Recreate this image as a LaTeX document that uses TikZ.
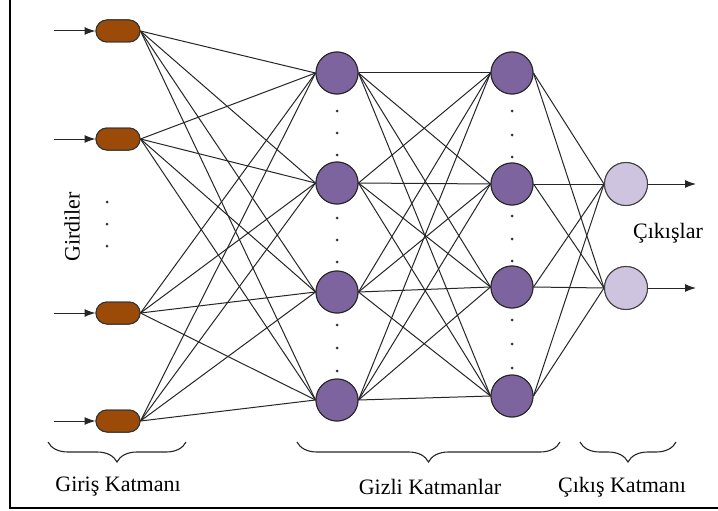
\documentclass[tikz,border=0pt]{standalone}
\usepackage{fontspec}
\setmainfont{Liberation Serif}
\usetikzlibrary{arrows.meta,decorations.pathreplacing,shapes.misc}
\definecolor{inbrown}{RGB}{155,74,8}
\definecolor{hidpurple}{RGB}{126,100,158}
\definecolor{outlav}{RGB}{206,196,224}
\tikzset{
  innode/.style={draw=black!80, fill=inbrown, rounded rectangle, minimum width=44pt, minimum height=22pt, inner sep=0pt, line width=1pt},
  hidnode/.style={draw=black!85, fill=hidpurple, circle, minimum size=42pt, inner sep=0pt, line width=1pt},
  outnode/.style={draw=black!75, fill=outlav, circle, minimum size=43pt, inner sep=0pt, line width=1pt},
  conn/.style={draw=black!85, line width=1pt},
  arr/.style={draw=black!85, line width=1pt, -{Latex[length=11pt,width=8pt]}},
  dotmark/.style={circle, fill=black!80, minimum size=3pt, inner sep=0pt},
  lbl/.style={font=\fontsize{22}{26}\selectfont},
  brc/.style={decorate, decoration={brace, mirror, amplitude=20pt, aspect=0.5}, line width=1.1pt, draw=black!85}
}
\begin{document}
\begin{tikzpicture}[x=1pt,y=-1pt]
\useasboundingbox (0,0) rectangle (718,511);
\fill[white] (0,0) rectangle (718,511);
% frame
\draw[line width=1.8pt] (10,0) -- (10,508) -- (718,508);
% input nodes
\node[innode] (i1) at (118,31) {};
\node[innode] (i2) at (118,139) {};
\node[innode] (i3) at (118,313) {};
\node[innode] (i4) at (118,421) {};
% input arrows
\foreach \k in {1,2,3,4} {
  \coordinate (s\k) at ([xshift=-42pt]i\k.west);
  \draw[arr] (s\k) -- (i\k.west);
}
% hidden layer 1
\node[hidnode] (h1) at (337,73) {};
\node[hidnode] (h2) at (337,183) {};
\node[hidnode] (h3) at (337,292) {};
\node[hidnode] (h4) at (337,400) {};
% hidden layer 2
\node[hidnode] (g1) at (512,73) {};
\node[hidnode] (g2) at (512,184) {};
\node[hidnode] (g3) at (512,287) {};
\node[hidnode] (g4) at (512,396) {};
% output
\node[outnode] (o1) at (626,184) {};
\node[outnode] (o2) at (626,288) {};
\foreach \k in {1,2} {
  \coordinate (e\k) at ([xshift=48pt]o\k.east);
}
% connections
\foreach \a in {1,2,3,4} {
  \foreach \b in {1,2,3,4} {
    \draw[conn] (i\a.east) -- (h\b.west);
    \draw[conn] (h\a.east) -- (g\b.west);
  }
  \foreach \b in {1,2} {
    \draw[conn] (g\a.east) -- (o\b.west);
  }
}
% redraw nodes on top
\node[innode] at (i1) {};
\node[innode] at (i2) {};
\node[innode] at (i3) {};
\node[innode] at (i4) {};
\node[hidnode] at (h1) {};
\node[hidnode] at (h2) {};
\node[hidnode] at (h3) {};
\node[hidnode] at (h4) {};
\node[hidnode] at (g1) {};
\node[hidnode] at (g2) {};
\node[hidnode] at (g3) {};
\node[hidnode] at (g4) {};
\node[outnode] at (o1) {};
\node[outnode] at (o2) {};
\draw[arr] (o1.east) -- (e1);
\draw[arr] (o2.east) -- (e2);
% dots
\foreach \y in {202,224,246} \node[dotmark] at (107,\y) {};
\foreach \y in {111,133,155, 218,240,262, 325,348,371} \node[dotmark] at (337,\y) {};
\foreach \y in {111,135,157, 216,239,261, 320,344,368} \node[dotmark] at (512,\y) {};
% labels
\node[lbl, rotate=90] (girdiler) at (72,227) {Girdiler};
\node[lbl] (cikislar) at (668,233) {Çıkışlar};
% braces
\coordinate (b1a) at (48,442);
\coordinate (b1b) at (186,442);
\coordinate (b2a) at (297,442);
\coordinate (b2b) at (560,442);
\coordinate (b3a) at (580,442);
\coordinate (b3b) at (676,442);
\draw[brc] (b1a) -- (b1b);
\draw[brc] (b2a) -- (b2b);
\draw[brc] (b3a) -- (b3b);
\node[lbl] (l1) at (118,487) {Giriş Katmanı};
\node[lbl] (l2) at (430,487) {Gizli Katmanlar};
\node[lbl] (l3) at (622,487) {Çıkış Katmanı};
\end{tikzpicture}
\end{document}
